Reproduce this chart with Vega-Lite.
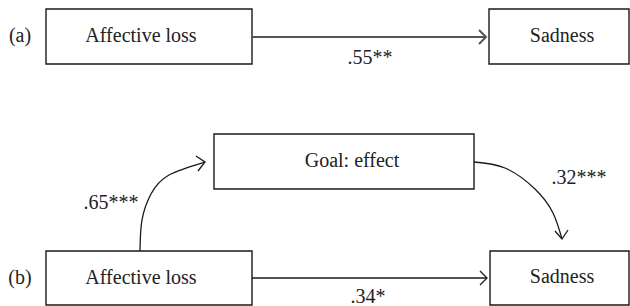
{
  "$schema": "https://vega.github.io/schema/vega-lite/v6.json",
  "width": 630,
  "height": 306,
  "padding": 0,
  "autosize": "none",
  "background": "white",
  "config": {"view": {"stroke": null}},
  "datasets": {
    "boxes": [
      {"name": "A1", "x1": 46, "x2": 252, "y1": 9, "y2": 64},
      {"name": "S1", "x1": 489, "x2": 629, "y1": 9, "y2": 64},
      {"name": "G", "x1": 214, "x2": 474, "y1": 134, "y2": 189},
      {"name": "A2", "x1": 46, "x2": 252, "y1": 251, "y2": 305},
      {"name": "S2", "x1": 490, "x2": 629, "y1": 251, "y2": 305}
    ],
    "paths": [
      {"id": "a_line", "grp": "a", "ord": 1, "x": 252, "y": 37},
      {"id": "a_line", "grp": "a", "ord": 2, "x": 486, "y": 37},
      {"id": "a_head", "grp": "a", "ord": 1, "x": 479, "y": 30},
      {"id": "a_head", "grp": "a", "ord": 2, "x": 486, "y": 37},
      {"id": "a_head", "grp": "a", "ord": 3, "x": 479, "y": 44},
      {"id": "b_line", "grp": "b", "ord": 1, "x": 252, "y": 278},
      {"id": "b_line", "grp": "b", "ord": 2, "x": 487, "y": 278},
      {"id": "b_head", "grp": "b", "ord": 1, "x": 480, "y": 271},
      {"id": "b_head", "grp": "b", "ord": 2, "x": 487, "y": 278},
      {"id": "b_head", "grp": "b", "ord": 3, "x": 480, "y": 285},
      {"id": "c1_head", "grp": "b", "ord": 1, "x": 196, "y": 156},
      {"id": "c1_head", "grp": "b", "ord": 2, "x": 205, "y": 162},
      {"id": "c1_head", "grp": "b", "ord": 3, "x": 198, "y": 171},
      {"id": "c2_head", "grp": "b", "ord": 1, "x": 555, "y": 231},
      {"id": "c2_head", "grp": "b", "ord": 2, "x": 562, "y": 239},
      {"id": "c2_head", "grp": "b", "ord": 3, "x": 568, "y": 230}
    ],
    "curves": [
      {"id": "c1", "ord": 1, "x": 140, "y": 251},
      {"id": "c1", "ord": 2, "x": 142, "y": 220},
      {"id": "c1", "ord": 3, "x": 151, "y": 194},
      {"id": "c1", "ord": 4, "x": 169, "y": 175},
      {"id": "c1", "ord": 5, "x": 205, "y": 162},
      {"id": "c2", "ord": 1, "x": 474, "y": 162},
      {"id": "c2", "ord": 2, "x": 505, "y": 168},
      {"id": "c2", "ord": 3, "x": 535, "y": 189},
      {"id": "c2", "ord": 4, "x": 553, "y": 213},
      {"id": "c2", "ord": 5, "x": 562, "y": 239}
    ],
    "labels": [
      {"text": "(a)", "x": 20, "y": 36},
      {"text": "Affective loss", "x": 141, "y": 36},
      {"text": "Sadness", "x": 562, "y": 36},
      {"text": ".55**", "x": 370, "y": 58},
      {"text": "Goal: effect", "x": 352, "y": 161},
      {"text": ".65***", "x": 111, "y": 203},
      {"text": ".32***", "x": 579, "y": 178},
      {"text": "(b)", "x": 20, "y": 278},
      {"text": "Affective loss", "x": 141, "y": 278},
      {"text": "Sadness", "x": 562, "y": 277},
      {"text": ".34*", "x": 368, "y": 297}
    ]
  },
  "layer": [
    {
      "data": {"name": "boxes"},
      "mark": {"type": "rect", "fill": "white", "stroke": "#1a1a1a", "strokeWidth": 1.4},
      "encoding": {
        "x": {"field": "x1", "type": "quantitative", "scale": {"domain": [0, 630]}, "axis": null},
        "x2": {"field": "x2"},
        "y": {"field": "y1", "type": "quantitative", "scale": {"domain": [0, 306], "reverse": true}, "axis": null},
        "y2": {"field": "y2"}
      }
    },
    {
      "data": {"name": "paths"},
      "transform": [{"filter": "datum.grp == 'a'"}],
      "mark": {"type": "line", "stroke": "#555555", "strokeWidth": 2},
      "encoding": {
        "x": {"field": "x", "type": "quantitative", "scale": {"domain": [0, 630]}, "axis": null},
        "y": {"field": "y", "type": "quantitative", "scale": {"domain": [0, 306], "reverse": true}, "axis": null},
        "detail": {"field": "id"},
        "order": {"field": "ord"}
      }
    },
    {
      "data": {"name": "paths"},
      "transform": [{"filter": "datum.grp == 'b'"}],
      "mark": {"type": "line", "stroke": "#1a1a1a", "strokeWidth": 1.3},
      "encoding": {
        "x": {"field": "x", "type": "quantitative", "scale": {"domain": [0, 630]}, "axis": null},
        "y": {"field": "y", "type": "quantitative", "scale": {"domain": [0, 306], "reverse": true}, "axis": null},
        "detail": {"field": "id"},
        "order": {"field": "ord"}
      }
    },
    {
      "data": {"name": "curves"},
      "mark": {"type": "line", "stroke": "#1a1a1a", "strokeWidth": 1.3, "interpolate": "natural"},
      "encoding": {
        "x": {"field": "x", "type": "quantitative", "scale": {"domain": [0, 630]}, "axis": null},
        "y": {"field": "y", "type": "quantitative", "scale": {"domain": [0, 306], "reverse": true}, "axis": null},
        "detail": {"field": "id"},
        "order": {"field": "ord"}
      }
    },
    {
      "data": {"name": "labels"},
      "mark": {"type": "text", "font": "Liberation Serif", "fontSize": 20, "color": "#222222", "align": "center", "baseline": "middle"},
      "encoding": {
        "x": {"field": "x", "type": "quantitative", "scale": {"domain": [0, 630]}, "axis": null},
        "y": {"field": "y", "type": "quantitative", "scale": {"domain": [0, 306], "reverse": true}, "axis": null},
        "text": {"field": "text"}
      }
    }
  ]
}
